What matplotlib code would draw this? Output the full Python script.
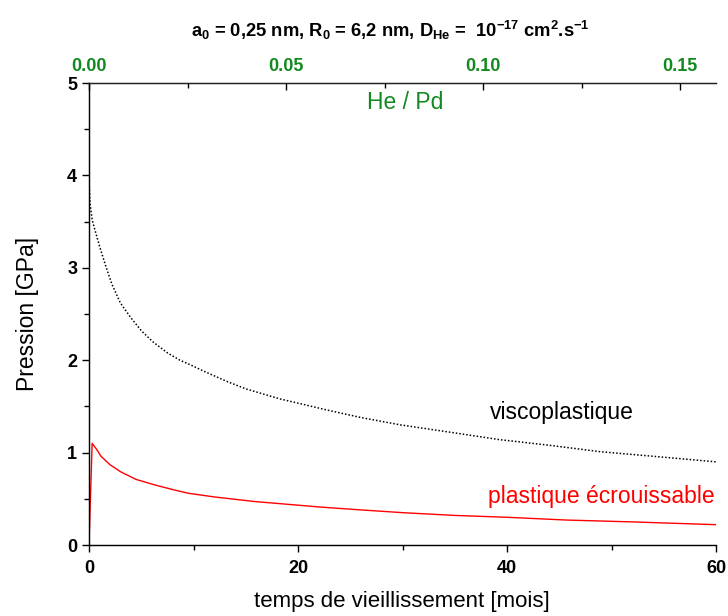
import matplotlib
matplotlib.use("Agg")
import matplotlib.pyplot as plt
from matplotlib.ticker import MultipleLocator

plt.rcParams['font.family'] = ['Liberation Sans', 'DejaVu Sans']
plt.rcParams['mathtext.fontset'] = 'custom'
plt.rcParams['mathtext.rm'] = 'Liberation Sans'
plt.rcParams['mathtext.bf'] = 'Liberation Sans:bold'
plt.rcParams['mathtext.it'] = 'Liberation Sans:italic'

# Data
t_visco = [0, 0.02, 0.1, 0.3, 0.64, 1.1, 1.6, 2.2, 3.0, 4.0, 5.0, 6.1, 7.5, 8.7, 9.7,
           11.0, 13.2, 15.0, 18.3, 20.2, 22.8, 26.0, 29.8, 34.0, 39.3, 44.0, 48.9, 54.0, 60]
p_visco = [0, 3.90, 3.70, 3.52, 3.38, 3.20, 3.02, 2.82, 2.62, 2.46, 2.32, 2.20, 2.08, 2.00, 1.95,
           1.88, 1.77, 1.69, 1.58, 1.53, 1.46, 1.38, 1.30, 1.23, 1.14, 1.08, 1.01, 0.96, 0.90]

t_plast = [0, 0.3, 0.7, 1.15, 2.0, 3.06, 4.5, 6.3, 8.0, 9.5, 12.0, 15.9, 20.1, 22.2,
           26.0, 30.0, 35.0, 40.0, 45.7, 52.0, 60]
p_plast = [0, 1.10, 1.04, 0.96, 0.87, 0.79, 0.71, 0.65, 0.60, 0.56, 0.52, 0.47, 0.43, 0.41,
           0.38, 0.35, 0.32, 0.30, 0.27, 0.25, 0.22]

x_ticks = [0, 20, 40, 60]
y_ticks = [0, 1, 2, 3, 4, 5]
top_ticks = [0.00, 0.05, 0.10, 0.15]

green = '#138a1f'

fig = plt.figure(figsize=(7.28, 6.16), dpi=100)
ax = fig.add_axes([89/728, 1-545/616, (716-89)/728, (545-83)/616])

ax.plot(t_visco, p_visco, color='black', lw=1.1, linestyle=(0, (1, 1.3)))
ax.plot(t_plast, p_plast, color='red', lw=1.0)

ax.set_xlim(0, 60)
ax.set_ylim(0, 5)
ax.set_xticks(x_ticks)
ax.set_yticks(y_ticks)
ax.xaxis.set_minor_locator(MultipleLocator(10))
ax.yaxis.set_minor_locator(MultipleLocator(0.5))
ax.tick_params(axis='both', which='major', direction='out', length=5, width=1,
               labelsize=13)
ax.tick_params(axis='x', which='major', pad=6)
ax.tick_params(axis='both', which='minor', direction='out', length=3.5, width=1)
for lab in ax.get_xticklabels() + ax.get_yticklabels():
    lab.set_fontweight('bold')
ax.spines['right'].set_visible(False)
for s in ['left', 'bottom', 'top']:
    ax.spines[s].set_linewidth(1.0)
    ax.spines[s].set_color('#222222')

ax.set_ylabel('Pression [GPa]', fontsize=16.5, labelpad=20)
fig.text(402/728, 1-601/616, 'temps de vieillissement [mois]', fontsize=16,
         ha='center', va='center')

ax2 = ax.twiny()
ax2.set_xlim(0, 0.1591)
ax2.set_xticks(top_ticks)
ax2.set_xticklabels(['%.2f' % v for v in top_ticks])
ax2.xaxis.set_minor_locator(MultipleLocator(0.025))
ax2.tick_params(axis='x', which='major', direction='in', length=5, width=1,
                labelsize=13, labelcolor=green, pad=6)
ax2.tick_params(axis='x', which='minor', direction='in', length=3.5, width=1)
for lab in ax2.get_xticklabels():
    lab.set_fontweight('bold')
ax2.spines['right'].set_visible(False)
ax2.spines['top'].set_color('#222222')

ax.text(0.504, 0.957, 'He / Pd', transform=ax.transAxes, color=green,
        fontsize=16.5, ha='center', va='center')
ax.text(0.754, 0.286, 'viscoplastique', transform=ax.transAxes, color='black',
        fontsize=16.5, ha='center', va='center')
ax.text(0.817, 0.104, 'plastique écrouissable', transform=ax.transAxes, color='red',
        fontsize=16.5, ha='center', va='center')

fig.text(390/728, 1-30/616,
         r'a$_\mathbf{0}$ = 0,25 nm, R$_\mathbf{0}$ = 6,2 nm, D$_{\mathbf{He}}$ =  10$^{\mathbf{-17}}$ cm$^{\mathbf{2}}$.s$^{\mathbf{-1}}$',
         fontsize=13.2, fontweight='bold', ha='center', va='center')

fig.savefig('out.png', dpi=100)
